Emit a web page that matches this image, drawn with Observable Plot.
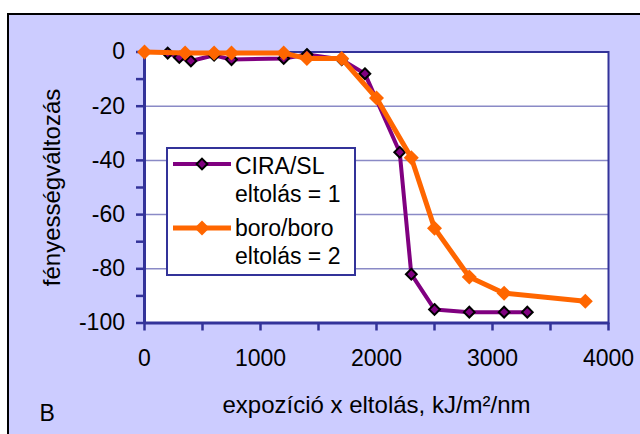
<!DOCTYPE html>
<html><head><meta charset="utf-8">
<script src="https://cdn.jsdelivr.net/npm/d3@7"></script>
<script src="https://cdn.jsdelivr.net/npm/@observablehq/plot@0.6"></script>
<style>
html,body{margin:0;padding:0;background:#fff;width:640px;height:434px;overflow:hidden;position:relative;}
#bg{position:absolute;left:7px;top:13px;width:640px;height:430px;background:#CCCCFF;border-left:2px solid #000;border-top:2px solid #000;box-sizing:border-box;}
#chart{position:absolute;left:0;top:0;}
#legend{position:absolute;left:166px;top:147px;}
</style></head><body>
<div id="bg"></div><div id="chart"></div><svg id="legend" width="190" height="130"></svg>
<script>
// Series data
const ciraName = ["CIRA/SL", "eltolás = 1"];
const ciraX = [200, 300, 400, 600, 750, 1200, 1400, 1700, 1900, 2200, 2300, 2500, 2800, 3100, 3300];
const ciraY = [-0.4, -2, -3.3, -1.2, -2.8, -2.4, -0.9, -2.8, -8, -37, -82, -95, -96, -96, -96];
const boroName = ["boro/boro", "eltolás = 2"];
const boroX = [0, 350, 600, 750, 1200, 1400, 1700, 2000, 2300, 2500, 2800, 3100, 3800];
const boroY = [0, -0.4, -0.4, -0.4, -0.4, -2.4, -2.4, -17, -39, -65, -83, -89, -92];
// Axes
const xTicks = [0, 500, 1000, 1500, 2000, 2500, 3000, 3500, 4000];
const xLabelled = [0, 1000, 2000, 3000, 4000];
const yTicks = [-100, -90, -80, -70, -60, -50, -40, -30, -20, -10, 0];
const yLabelled = [-100, -80, -60, -40, -20, 0];
const yGrid = [-20, -40, -60, -80];
const xTitle = "expozíció x eltolás, kJ/m²/nm";
const yTitle = "fényességváltozás";
const panel = "B";

const cira = ciraX.map((x, i) => ({x, y: ciraY[i]}));
const boro = boroX.map((x, i) => ({x, y: boroY[i]}));

const font = "'Liberation Sans', Arial, Helvetica, sans-serif";
const axisColor = "#333399";
const purple = "#800080", orange = "#FF6600";
const diamond = {draw(ctx, size) { const r = Math.sqrt(size / 2); ctx.moveTo(0, -r); ctx.lineTo(r, 0); ctx.lineTo(0, r); ctx.lineTo(-r, 0); ctx.closePath(); }};

const plot = Plot.plot({
  width: 640, height: 434,
  marginLeft: 144, marginRight: 32, marginTop: 51.5, marginBottom: 111.5,
  style: {fontFamily: font, fontSize: "23px", background: "transparent", color: "black", overflow: "visible"},
  x: {domain: [0, 4000]},
  y: {domain: [-100, 0]},
  marks: [
    Plot.frame({fill: "white", stroke: null}),
    Plot.ruleY(yGrid, {stroke: "#8a8ac6", strokeWidth: 1.5}),
    Plot.frame({stroke: axisColor, strokeWidth: 2}),
    Plot.axisX({ticks: xTicks, tickFormat: d => xLabelled.includes(d) ? String(d) : "", tickSize: 8, tickPadding: 19, stroke: axisColor, strokeWidth: 2.5, fill: "black", fontSize: 23, label: null}),
    Plot.axisY({ticks: yTicks, tickFormat: d => yLabelled.includes(d) ? String(d) : "", tickSize: 8, tickPadding: 11.5, stroke: axisColor, strokeWidth: 2.5, fill: "black", fontSize: 23, label: null}),
    Plot.ruleX([0], {stroke: axisColor, strokeWidth: 3}),
    Plot.ruleY([-100], {stroke: axisColor, strokeWidth: 3}),
    Plot.line(cira, {x: "x", y: "y", stroke: purple, strokeWidth: 4}),
    Plot.dot(cira, {x: "x", y: "y", symbol: diamond, r: 4.3, fill: purple, stroke: "black", strokeWidth: 2}),
    Plot.line(boro, {x: "x", y: "y", stroke: orange, strokeWidth: 5}),
    Plot.dot(boro, {x: "x", y: "y", symbol: diamond, r: 6, fill: orange, stroke: null}),
    Plot.text([yTitle], {text: d => d, frameAnchor: "left", textAnchor: "middle", lineAnchor: "middle", dx: -92, rotate: -90, fontSize: 24, fill: "black"}),
    Plot.text([xTitle], {text: d => d, frameAnchor: "bottom", textAnchor: "middle", dy: 89.5, lineAnchor: "bottom", fontSize: 24, fill: "black"}),
    Plot.text([panel], {text: d => d, frameAnchor: "bottom-left", textAnchor: "start", dx: -105, dy: 97.5, lineAnchor: "bottom", fontSize: 23, fill: "black"})
  ]
});
document.getElementById("chart").appendChild(plot);

// Legend
const lg = d3.select("#legend");
lg.append("rect").attr("x", 1).attr("y", 1).attr("width", 188).attr("height", 127)
  .attr("fill", "white").attr("stroke", axisColor).attr("stroke-width", 2);
const sym = d3.symbol().type(diamond);
const entries = [
  {name: ciraName, color: purple, width: 4, size: Math.PI * 4.3 * 4.3, stroke: "black", ly: 17, by: 27},
  {name: boroName, color: orange, width: 5, size: Math.PI * 6 * 6, stroke: "none", ly: 81, by: 89}
];
for (const e of entries) {
  lg.append("line").attr("x1", 7).attr("x2", 65).attr("y1", e.ly).attr("y2", e.ly)
    .attr("stroke", e.color).attr("stroke-width", e.width);
  lg.append("path").attr("d", sym.size(e.size)()).attr("transform", `translate(36,${e.ly})`)
    .attr("fill", e.color).attr("stroke", e.stroke).attr("stroke-width", 2);
  e.name.forEach((t, i) => {
    lg.append("text").attr("x", 69).attr("y", e.by + i * 28).text(t)
      .attr("font-family", font).attr("font-size", 23).attr("fill", "black");
  });
}
</script>
</body></html>
